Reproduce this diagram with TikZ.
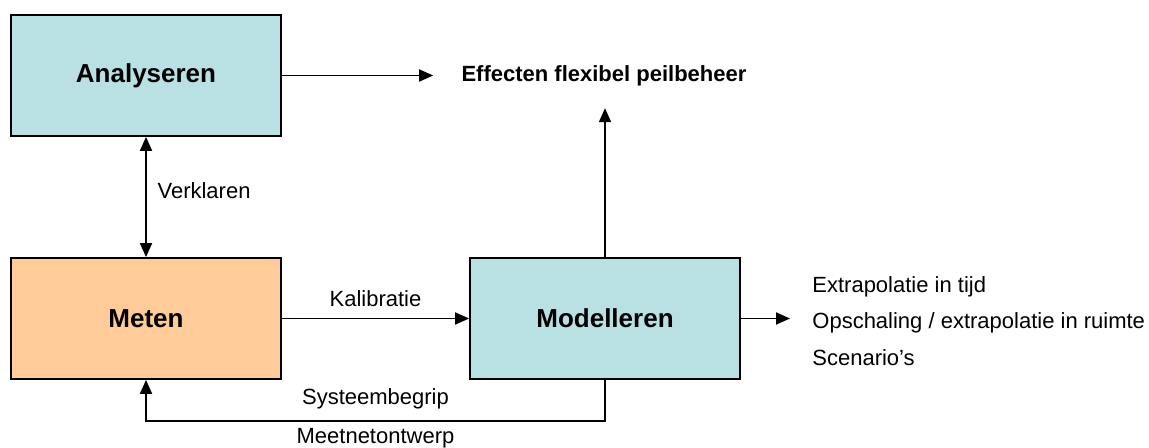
\documentclass[tikz,border=0pt]{standalone}
\usepackage{fontspec}
\setmainfont{Liberation Sans}
\usetikzlibrary{arrows.meta, positioning, calc}
\definecolor{boxcyan}{RGB}{185,224,226}
\definecolor{boxorange}{RGB}{255,204,153}

\tikzset{
  blok/.style={draw, line width=0.9pt, minimum width=135pt, minimum height=60.5pt,
    inner sep=0pt, font=\fontsize{13}{15}\selectfont\bfseries},
  pijl/.style={line width=0.9pt, -{Triangle[length=7pt,width=6pt]}},
  dubbelpijl/.style={line width=0.9pt, {Triangle[length=7pt,width=6pt]}-{Triangle[length=7pt,width=6pt]}},
  klein/.style={font=\fontsize{11}{13}\selectfont}
}

\begin{document}
\begin{tikzpicture}[x=0.5pt, y=-0.5pt]
\useasboundingbox (0,0) rectangle (1149,448);

% blokken
\node[blok, fill=boxcyan] (ana) at (146,75.5) {Analyseren};
\node[blok, fill=boxorange] (met) at (146,318.5) {Meten};
\node[blok, fill=boxcyan] (mod) at (605,318.5) {Modelleren};

% resultaten
\node[font=\fontsize{11}{13}\selectfont\bfseries, inner xsep=14pt, inner ysep=11pt] (eff) at (604,75.5) {Effecten flexibel peilbeheer};
\node[font=\fontsize{11}{18.25}\selectfont, align=left, anchor=west, inner xsep=11pt] (uit) at (790,321)
  {Extrapolatie in tijd\\Opschaling / extrapolatie in ruimte\\Scenario’s};

% pijlen
\draw[pijl] (ana.east) -- (eff.west);
\draw[pijl] (mod.north) -- (mod.north |- eff.south);
\draw[dubbelpijl] (ana.south) -- node[klein, right=2pt, pos=0.45] {Verklaren} (met.north);
\draw[pijl] (met.east) -- node[klein, above, yshift=2pt] {Kalibratie} (mod.west);
\draw[pijl] (mod.east) -- (mod.east -| uit.west);

% terugkoppeling
\coordinate (hoek) at ($(mod.south)+(0,41)$);
\draw[pijl] (mod.south) -- (hoek) -- node[klein, above, yshift=2pt] {Systeembegrip}
  node[klein, below] {Meetnetontwerp} (hoek -| met.south) -- (met.south);
\end{tikzpicture}
\end{document}
